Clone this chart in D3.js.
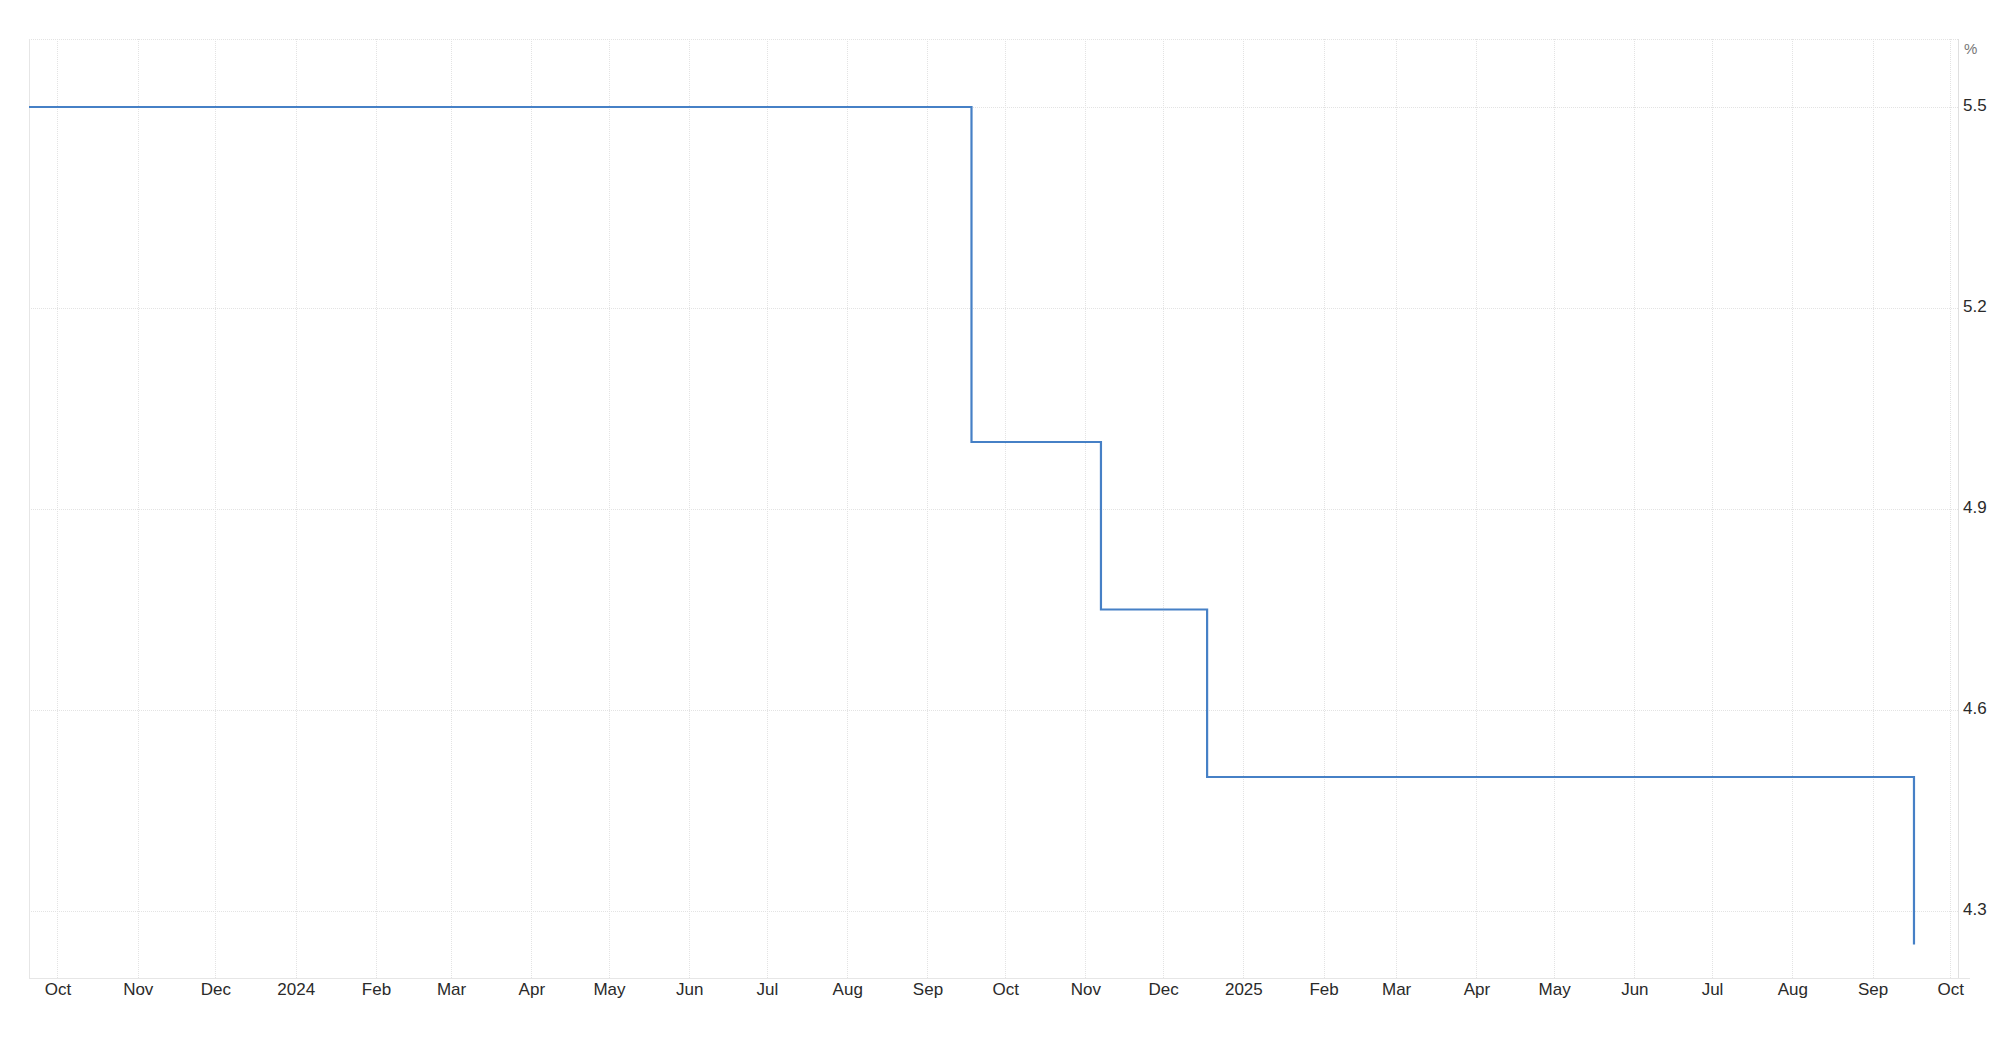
<!DOCTYPE html>
<html>
<head>
<meta charset="utf-8">
<script src="https://cdn.jsdelivr.net/npm/d3@7"></script>
<style>
  html, body { margin: 0; padding: 0; background: #fff; }
  svg { display: block; }
  text { font-family: "Liberation Sans", Arial, Helvetica, sans-serif; }
</style>
</head>
<body>
<svg id="chart" width="2000" height="1049"></svg>
<script>
// ---- data ----
const dates = ["2023-09-20", "2024-09-18", "2024-11-07", "2024-12-18", "2025-09-17"];
const rates = [5.5, 5.0, 4.75, 4.5, 4.25];
const yTicks = [4.3, 4.6, 4.9, 5.2, 5.5];
const xDomainDates = ["2023-09-20", "2025-10-04"];
const unitLabel = "%";

// ---- layout ----
const plotL = 29, plotR = 1958, plotT = 39, plotB = 978;
const parse = d3.utcParse("%Y-%m-%d");

const x = d3.scaleUtc().domain(xDomainDates.map(parse)).range([plotL, plotR]);
const y = d3.scaleLinear().domain([4.2, 5.6015]).range([plotB, plotT]);

const svg = d3.select("#chart");
const data = dates.map((d, i) => ({ date: parse(d), v: rates[i] }));

const monthTicks = d3.utcMonth.range(d3.utcMonth.ceil(x.domain()[0]), d3.utcDay.offset(x.domain()[1], 1));
const fmt = d => d.getUTCMonth() === 0 ? d3.utcFormat("%Y")(d) : d3.utcFormat("%b")(d);

// grid (dotted)
const grid = svg.append("g");
grid.selectAll("line.vx").data(monthTicks).join("line")
  .attr("x1", d => Math.round(x(d)) + 0.5).attr("x2", d => Math.round(x(d)) + 0.5)
  .attr("y1", plotT).attr("y2", plotB)
  .attr("stroke", "#e3e3e3").attr("stroke-width", 1).attr("stroke-dasharray", "1,1");
grid.selectAll("line.hy").data(yTicks).join("line")
  .attr("x1", plotL).attr("x2", plotR)
  .attr("y1", d => Math.round(y(d)) + 0.5).attr("y2", d => Math.round(y(d)) + 0.5)
  .attr("stroke", "#e3e3e3").attr("stroke-width", 1).attr("stroke-dasharray", "1,1");
grid.append("line").attr("x1", plotL).attr("x2", plotR).attr("y1", plotT + 0.5).attr("y2", plotT + 0.5)
  .attr("stroke", "#e3e3e3").attr("stroke-dasharray", "1,1");

// frame lines (solid)
svg.append("line").attr("x1", plotL + 0.5).attr("x2", plotL + 0.5).attr("y1", plotT).attr("y2", plotB)
  .attr("stroke", "#e6e6e6");
svg.append("line").attr("x1", plotR + 0.5).attr("x2", plotR + 0.5).attr("y1", plotT).attr("y2", plotB)
  .attr("stroke", "#e0e0e0");
svg.append("line").attr("x1", plotL).attr("x2", 1970).attr("y1", plotB + 0.5).attr("y2", plotB + 0.5)
  .attr("stroke", "#e6e6e6");

// x axis labels
const xAxis = d3.axisBottom(x).tickValues(monthTicks).tickFormat(fmt).tickSize(0).tickPadding(0);
const gx = svg.append("g").attr("transform", `translate(0,${plotB})`).call(xAxis);
gx.select(".domain").remove();
gx.selectAll("text").attr("font-size", 17).attr("fill", "#2a2a2a").attr("dy", "0").attr("y", 17)
  .attr("font-family", "'Liberation Sans', Arial, sans-serif");

// y axis labels
const yAxis = d3.axisRight(y).tickValues(yTicks).tickFormat(d3.format(".1f")).tickSize(0).tickPadding(0);
const gy = svg.append("g").attr("transform", `translate(${plotR + 5},0)`).call(yAxis);
gy.select(".domain").remove();
gy.selectAll("text").attr("font-size", 17).attr("fill", "#2a2a2a").attr("dy", "0.2em")
  .attr("font-family", "'Liberation Sans', Arial, sans-serif");

svg.append("text").attr("x", plotR + 6).attr("y", 54).attr("font-size", 15).attr("fill", "#777").text(unitLabel);

// step line
const line = d3.line().x(d => x(d.date)).y(d => y(d.v)).curve(d3.curveStepAfter);
svg.append("path").datum(data).attr("d", line)
  .attr("fill", "none").attr("stroke", "#4680c6").attr("stroke-width", 2.2);
</script>
</body>
</html>
